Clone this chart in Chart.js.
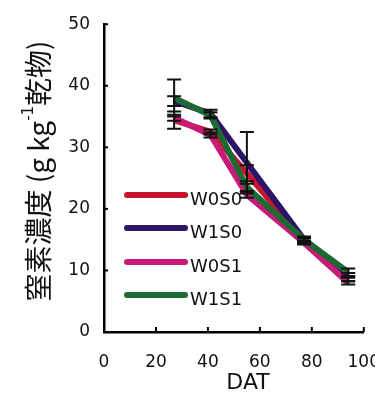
<!DOCTYPE html>
<html><head><meta charset="utf-8">
<script src="https://cdn.jsdelivr.net/npm/chart.js@4.4.1/dist/chart.umd.min.js"></script>
<style>
html,body{margin:0;padding:0;background:#fff;overflow:hidden;width:375px;height:394px;}
#wrap{position:relative;width:400px;height:394px;}
</style></head>
<body><div id="wrap"><canvas id="c" width="400" height="394"></canvas></div>
<script>
const dat = [27, 41, 55, 77, 94];
const seriesNames = ['W0S0', 'W1S0', 'W0S1', 'W1S1'];
const w0s0 = [34.4, 32.5, 25.8, 14.8, 8.5];
const w1s0 = [37.5, 35.5, 27.5, 15.0, 9.3];
const w0s1 = [34.8, 32.0, 22.3, 14.5, 8.0];
const w1s1 = [38.0, 35.2, 23.5, 15.0, 9.7];
const err_w0s0 = [1.4, 0.4, 1.3, 0.4, 0.3];
const err_w1s0 = [0.8, 0.6, 5.0, 0.5, 0.3];
const err_w0s1 = [0.5, 0.4, 0.5, 0.3, 0.3];
const err_w1s1 = [3.0, 0.5, 0.6, 0.4, 0.6];
const xTicks = [0, 20, 40, 60, 80, 100];
const yTicks = [0, 10, 20, 30, 40, 50];
const xTitle = 'DAT';
const colors = ['#c8142c', '#2d1466', '#c81a78', '#1e6a34'];

const vals = [w0s0, w1s0, w0s1, w1s1];
const errs = [err_w0s0, err_w1s0, err_w0s1, err_w1s1];

const datasets = vals.map((v, i) => ({
  label: seriesNames[i],
  data: dat.map((x, j) => ({x: x, y: v[j]})),
  errors: errs[i],
  borderColor: colors[i],
  backgroundColor: colors[i],
  borderWidth: 6,
  pointRadius: 0,
  showLine: true,
  tension: 0,
  order: 4 - i
}));

const font = "'DejaVu Sans', Verdana, sans-serif";

const extras = {
  id: 'extras',
  afterDatasetsDraw(chart) {
    const ctx = chart.ctx;
    const xs = chart.scales.x, ys = chart.scales.y;
    ctx.save();
    // error bars
    ctx.strokeStyle = '#111';
    ctx.lineWidth = 2;
    chart.data.datasets.forEach(ds => {
      ds.data.forEach((p, j) => {
        const e = ds.errors[j];
        const px = xs.getPixelForValue(p.x);
        const y1 = ys.getPixelForValue(p.y + e), y2 = ys.getPixelForValue(p.y - e);
        ctx.beginPath();
        ctx.moveTo(px, y1); ctx.lineTo(px, y2);
        ctx.moveTo(px - 7, y1); ctx.lineTo(px + 7, y1);
        ctx.moveTo(px - 7, y2); ctx.lineTo(px + 7, y2);
        ctx.stroke();
      });
    });
    // inward ticks
    ctx.strokeStyle = '#000';
    ctx.lineWidth = 2;
    const left = chart.chartArea.left, bottom = chart.chartArea.bottom;
    yTicks.forEach(v => {
      const py = ys.getPixelForValue(v);
      ctx.beginPath(); ctx.moveTo(left, py); ctx.lineTo(left + 4, py); ctx.stroke();
    });
    xTicks.forEach(v => {
      const px = xs.getPixelForValue(v);
      ctx.beginPath(); ctx.moveTo(px, bottom); ctx.lineTo(px, bottom - 5); ctx.stroke();
    });
    // legend
    const ly = [195, 228, 262, 295];
    chart.data.datasets.forEach((ds, i) => {
      ctx.strokeStyle = ds.borderColor;
      ctx.lineWidth = 6;
      ctx.lineCap = 'round';
      ctx.beginPath(); ctx.moveTo(127, ly[i]); ctx.lineTo(185, ly[i]); ctx.stroke();
      ctx.fillStyle = '#111';
      ctx.font = '18px ' + font;
      ctx.textBaseline = 'middle';
      ctx.textAlign = 'left';
      ctx.fillText(ds.label, 190, ly[i] + 5);
    });
    ctx.restore();
  },
  afterDraw(chart) {
    const ctx = chart.ctx;
    ctx.save();
    ctx.fillStyle = '#111';
    // x title
    ctx.font = '22px ' + font;
    ctx.textAlign = 'center';
    ctx.textBaseline = 'middle';
    ctx.fillText(xTitle, 248, 383);
    // y title
    ctx.translate(38, 171);
    ctx.rotate(-Math.PI / 2);
    const cjk = "'Noto Sans CJK JP', sans-serif";
    const parts = [
      {t: '窒素濃度 (g kg', f: '28px ' + cjk, dy: 0},
      {t: '-1', f: '15px ' + font, dy: -9},
      {t: '乾物)', f: '28px ' + cjk, dy: 0}
    ];
    let total = 0;
    parts.forEach(p => { ctx.font = p.f; total += ctx.measureText(p.t).width; });
    let x = -total / 2;
    ctx.textAlign = 'left';
    parts.forEach(p => { ctx.font = p.f; ctx.fillText(p.t, x, p.dy); x += ctx.measureText(p.t).width; });
    ctx.restore();
  }
};

new Chart(document.getElementById('c'), {
  type: 'scatter',
  data: {datasets: datasets},
  options: {
    responsive: false,
    animation: false,
    layout: {padding: {top: 22, right: 32, left: 0, bottom: 0}},
    plugins: {legend: {display: false}, tooltip: {enabled: false}},
    scales: {
      x: {
        type: 'linear', min: 0, max: 100,
        afterBuildTicks: s => { s.ticks = xTicks.map(v => ({value: v})); },
        afterFit: s => { s.height = 62; },
        grid: {display: false, drawTicks: false},
        border: {display: true, color: '#000', width: 2.5},
        ticks: {color: '#111', font: {size: 17, family: font}, padding: 20, maxRotation: 0, autoSkip: false}
      },
      y: {
        type: 'linear', min: 0, max: 50,
        afterBuildTicks: s => { s.ticks = yTicks.map(v => ({value: v})); },
        afterFit: s => { s.width = 104; },
        grid: {display: false, drawTicks: false},
        border: {display: true, color: '#000', width: 2.5},
        ticks: {color: '#111', font: {size: 17, family: font}, padding: 14}
      }
    }
  },
  plugins: [extras]
});
</script></body></html>
